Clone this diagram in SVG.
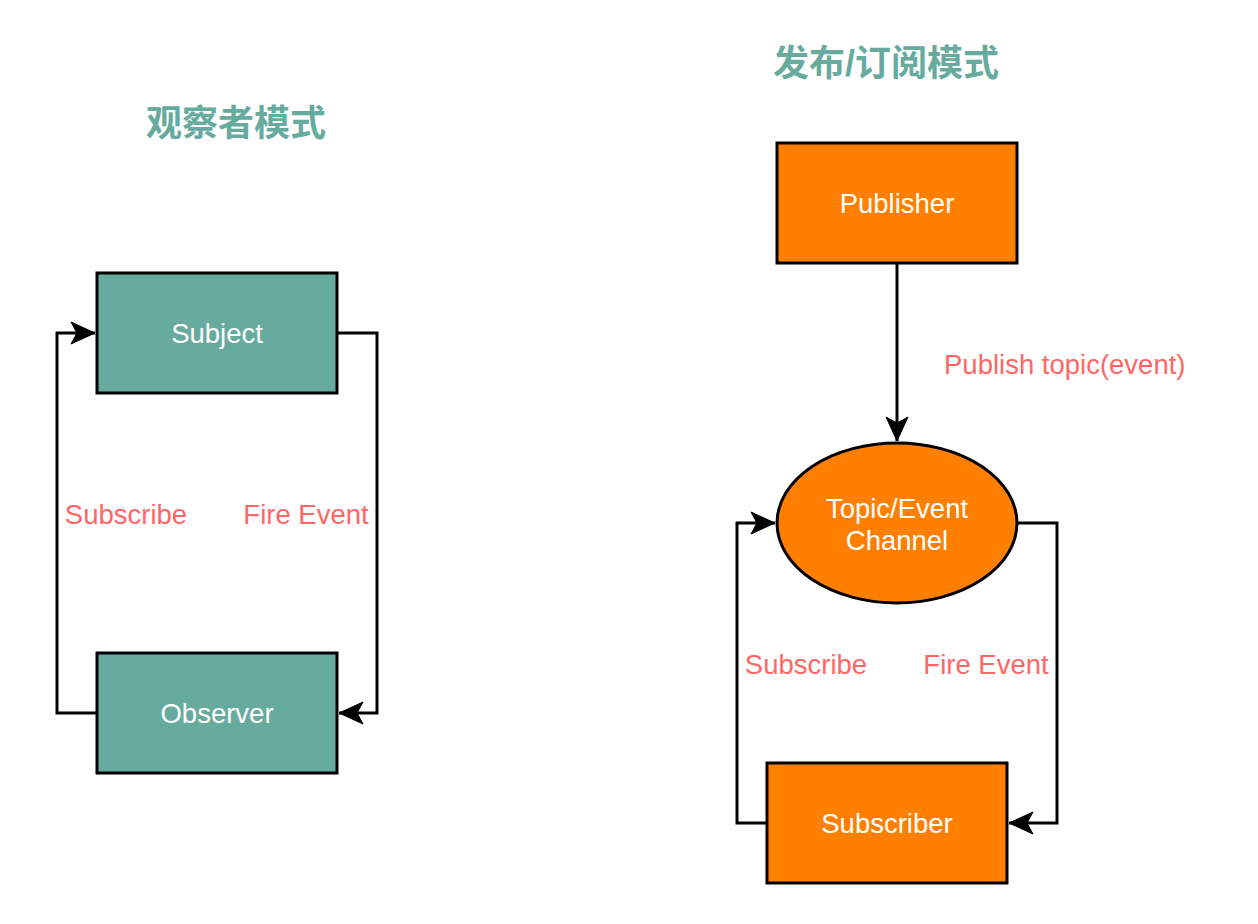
<svg xmlns="http://www.w3.org/2000/svg" width="1258" height="924" viewBox="0 0 1258 924">
<style>
.title{font-family:"Liberation Sans","Noto Sans CJK SC",sans-serif;font-size:36px;font-weight:bold;fill:#67AB9F;text-anchor:middle}
.node{stroke:#000;stroke-width:3}
.teal{fill:#67AB9F}
.orange{fill:#FF8000}
.nl{font-family:"Liberation Sans",Arial,sans-serif;font-size:27.5px;fill:#fff;text-anchor:middle}
.el{font-family:"Liberation Sans",Arial,sans-serif;font-size:27.5px;fill:#FF6666}
.edge{fill:none;stroke:#000;stroke-width:3}
</style>
<defs>
<marker id="arr" markerUnits="userSpaceOnUse" markerWidth="30" markerHeight="30" viewBox="0 0 30 30" refX="26" refY="15" orient="auto">
<path d="M2,4 L26,15 L2,26 L8,15 Z" fill="#000" stroke="#000" stroke-width="1"/>
</marker>
</defs>
<rect width="1258" height="924" fill="#fff"/>
<text class="title" x="236" y="136">观察者模式</text>
<text class="title" x="886" y="76">发布/订阅模式</text>
<g id="connectors">
<path class="edge" d="M97,713 H57 V333 H95" marker-end="url(#arr)"/>
<path class="edge" d="M337,333 H377 V713 H339" marker-end="url(#arr)"/>
<path class="edge" d="M897,263 V441" marker-end="url(#arr)"/>
<path class="edge" d="M767,823 H737 V523 H775" marker-end="url(#arr)"/>
<path class="edge" d="M1017,523 H1057 V823 H1009" marker-end="url(#arr)"/>
<text class="el" x="126" y="524" text-anchor="middle">Subscribe</text>
<text class="el" x="306" y="524" text-anchor="middle">Fire Event</text>
<text class="el" x="944" y="374">Publish topic(event)</text>
<text class="el" x="806" y="674" text-anchor="middle">Subscribe</text>
<text class="el" x="986" y="674" text-anchor="middle">Fire Event</text>
</g>
<g id="subject">
<rect class="node teal" x="97" y="273" width="240" height="120"/>
<text class="nl" x="217" y="343">Subject</text>
</g>
<g id="observer">
<rect class="node teal" x="97" y="653" width="240" height="120"/>
<text class="nl" x="217" y="723">Observer</text>
</g>
<g id="publisher">
<rect class="node orange" x="777" y="143" width="240" height="120"/>
<text class="nl" x="897" y="213">Publisher</text>
</g>
<g id="channel">
<ellipse class="node orange" cx="897" cy="523" rx="120" ry="80"/>
<text class="nl" x="897" y="518">Topic/Event</text>
<text class="nl" x="897" y="550">Channel</text>
</g>
<g id="subscriber">
<rect class="node orange" x="767" y="763" width="240" height="120"/>
<text class="nl" x="887" y="833">Subscriber</text>
</g>
</svg>
